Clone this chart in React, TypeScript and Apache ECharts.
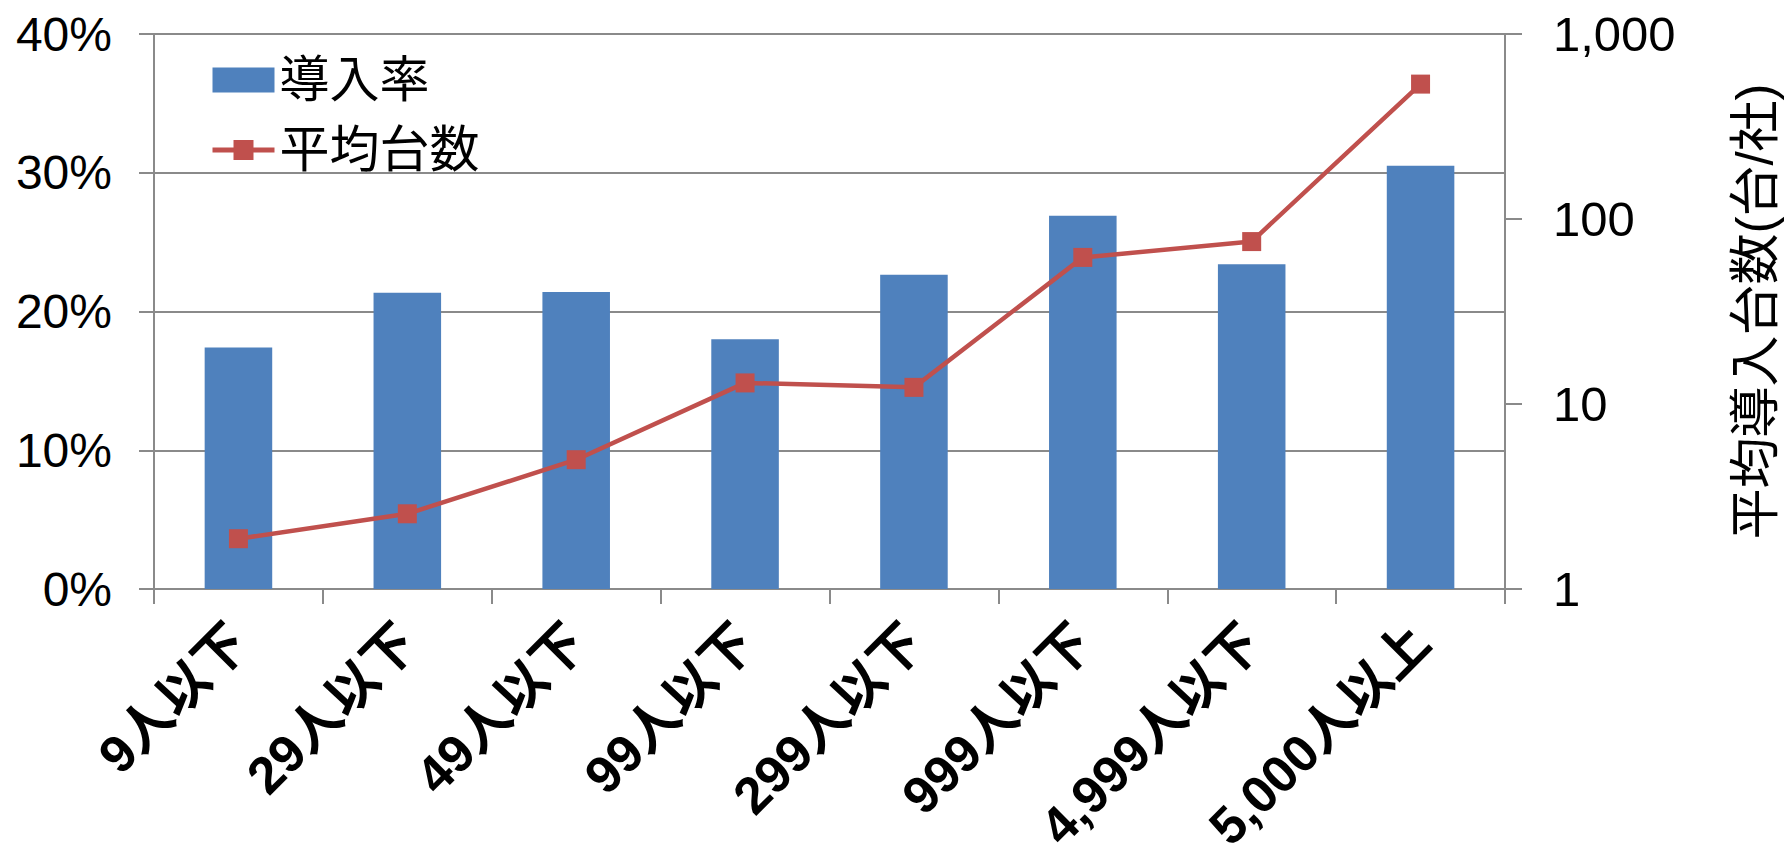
import React, { useEffect, useRef } from "react";
import * as echarts from "echarts";

const categories = ["9人以下", "29人以下", "49人以下", "99人以下", "299人以下", "999人以下", "4,999人以下", "5,000人以上"];
const adoptionRate = [17.4, 21.35, 21.4, 18.0, 22.65, 26.9, 23.4, 30.5];
const averageUnits = [1.87, 2.55, 5.0, 13.0, 12.3, 62, 75.5, 536];
const leftTicks = [0, 10, 20, 30, 40];
const rightTicks = [1, 10, 100, 1000];

const FONT = "'Liberation Sans', Arial, 'Noto Sans CJK JP', sans-serif";
const GRID_COLOR = "#8a8a8a";

export default function App() {
  const ref = useRef<HTMLDivElement>(null);
  useEffect(() => {
    if (!ref.current) return;
    const chart = echarts.init(ref.current, undefined, { renderer: "svg" });
    chart.setOption({
      animation: false,
      backgroundColor: "#ffffff",
      textStyle: { fontFamily: FONT },
      grid: {
        left: 154,
        right: 280,
        top: 34,
        bottom: 278,
        containLabel: false,
        outerBoundsMode: "none",
      },
      legend: {
        orient: "vertical",
        left: 205,
        top: 50,
        itemWidth: 62,
        itemHeight: 25,
        itemGap: 20,
        textStyle: { fontSize: 50, color: "#000", fontFamily: FONT },
        data: [
          { name: "導入率", icon: "rect" },
          { name: "平均台数", lineStyle: { width: 5 } },
        ],
      },
      xAxis: {
        type: "category",
        data: categories,
        boundaryGap: true,
        axisLine: { show: true, lineStyle: { color: GRID_COLOR, width: 2 } },
        axisTick: { show: true, length: 15, alignWithLabel: false, lineStyle: { color: GRID_COLOR, width: 2 } },
        axisLabel: {
          interval: 0,
          rotate: 45,
          margin: 44,
          fontSize: 52,
          fontWeight: "bold",
          color: "#000",
          fontFamily: FONT,
        },
      },
      yAxis: [
        {
          type: "value",
          min: leftTicks[0],
          max: leftTicks[leftTicks.length - 1],
          interval: 10,
          axisLine: { show: true, lineStyle: { color: GRID_COLOR, width: 2 } },
          axisTick: { show: true, length: 15, lineStyle: { color: GRID_COLOR, width: 2 } },
          splitLine: { show: true, lineStyle: { color: GRID_COLOR, width: 2 } },
          axisLabel: {
            margin: 42,
            fontSize: 48,
            color: "#000",
            fontFamily: FONT,
            formatter: (v: number) => `${v}%`,
          },
        },
        {
          type: "log",
          logBase: 10,
          min: rightTicks[0],
          max: rightTicks[rightTicks.length - 1],
          position: "right",
          name: "平均導入台数(台/社)",
          nameLocation: "middle",
          nameRotate: 90,
          nameGap: 225,
          nameTextStyle: { fontSize: 51, color: "#000", fontFamily: FONT },
          axisLine: { show: true, lineStyle: { color: GRID_COLOR, width: 2 } },
          axisTick: { show: true, length: 17, lineStyle: { color: GRID_COLOR, width: 2 } },
          splitLine: { show: false },
          axisLabel: {
            margin: 48,
            fontSize: 49,
            color: "#000",
            fontFamily: FONT,
            formatter: (v: number) => Math.round(v).toLocaleString("en-US"),
          },
        },
      ],
      series: [
        {
          name: "導入率",
          type: "bar",
          yAxisIndex: 0,
          data: adoptionRate,
          barWidth: "40%",
          itemStyle: { color: "#4F81BD" },
        },
        {
          name: "平均台数",
          type: "line",
          yAxisIndex: 1,
          data: averageUnits,
          symbol: "rect",
          symbolSize: 19,
          lineStyle: { color: "#C0504D", width: 4.5 },
          itemStyle: { color: "#C0504D" },
        },
      ],
    });
    return () => chart.dispose();
  }, []);
  return (
    <div
      ref={ref}
      style={{ position: "fixed", left: 0, top: 0, width: 1785, height: 867, background: "#fff" }}
    />
  );
}
